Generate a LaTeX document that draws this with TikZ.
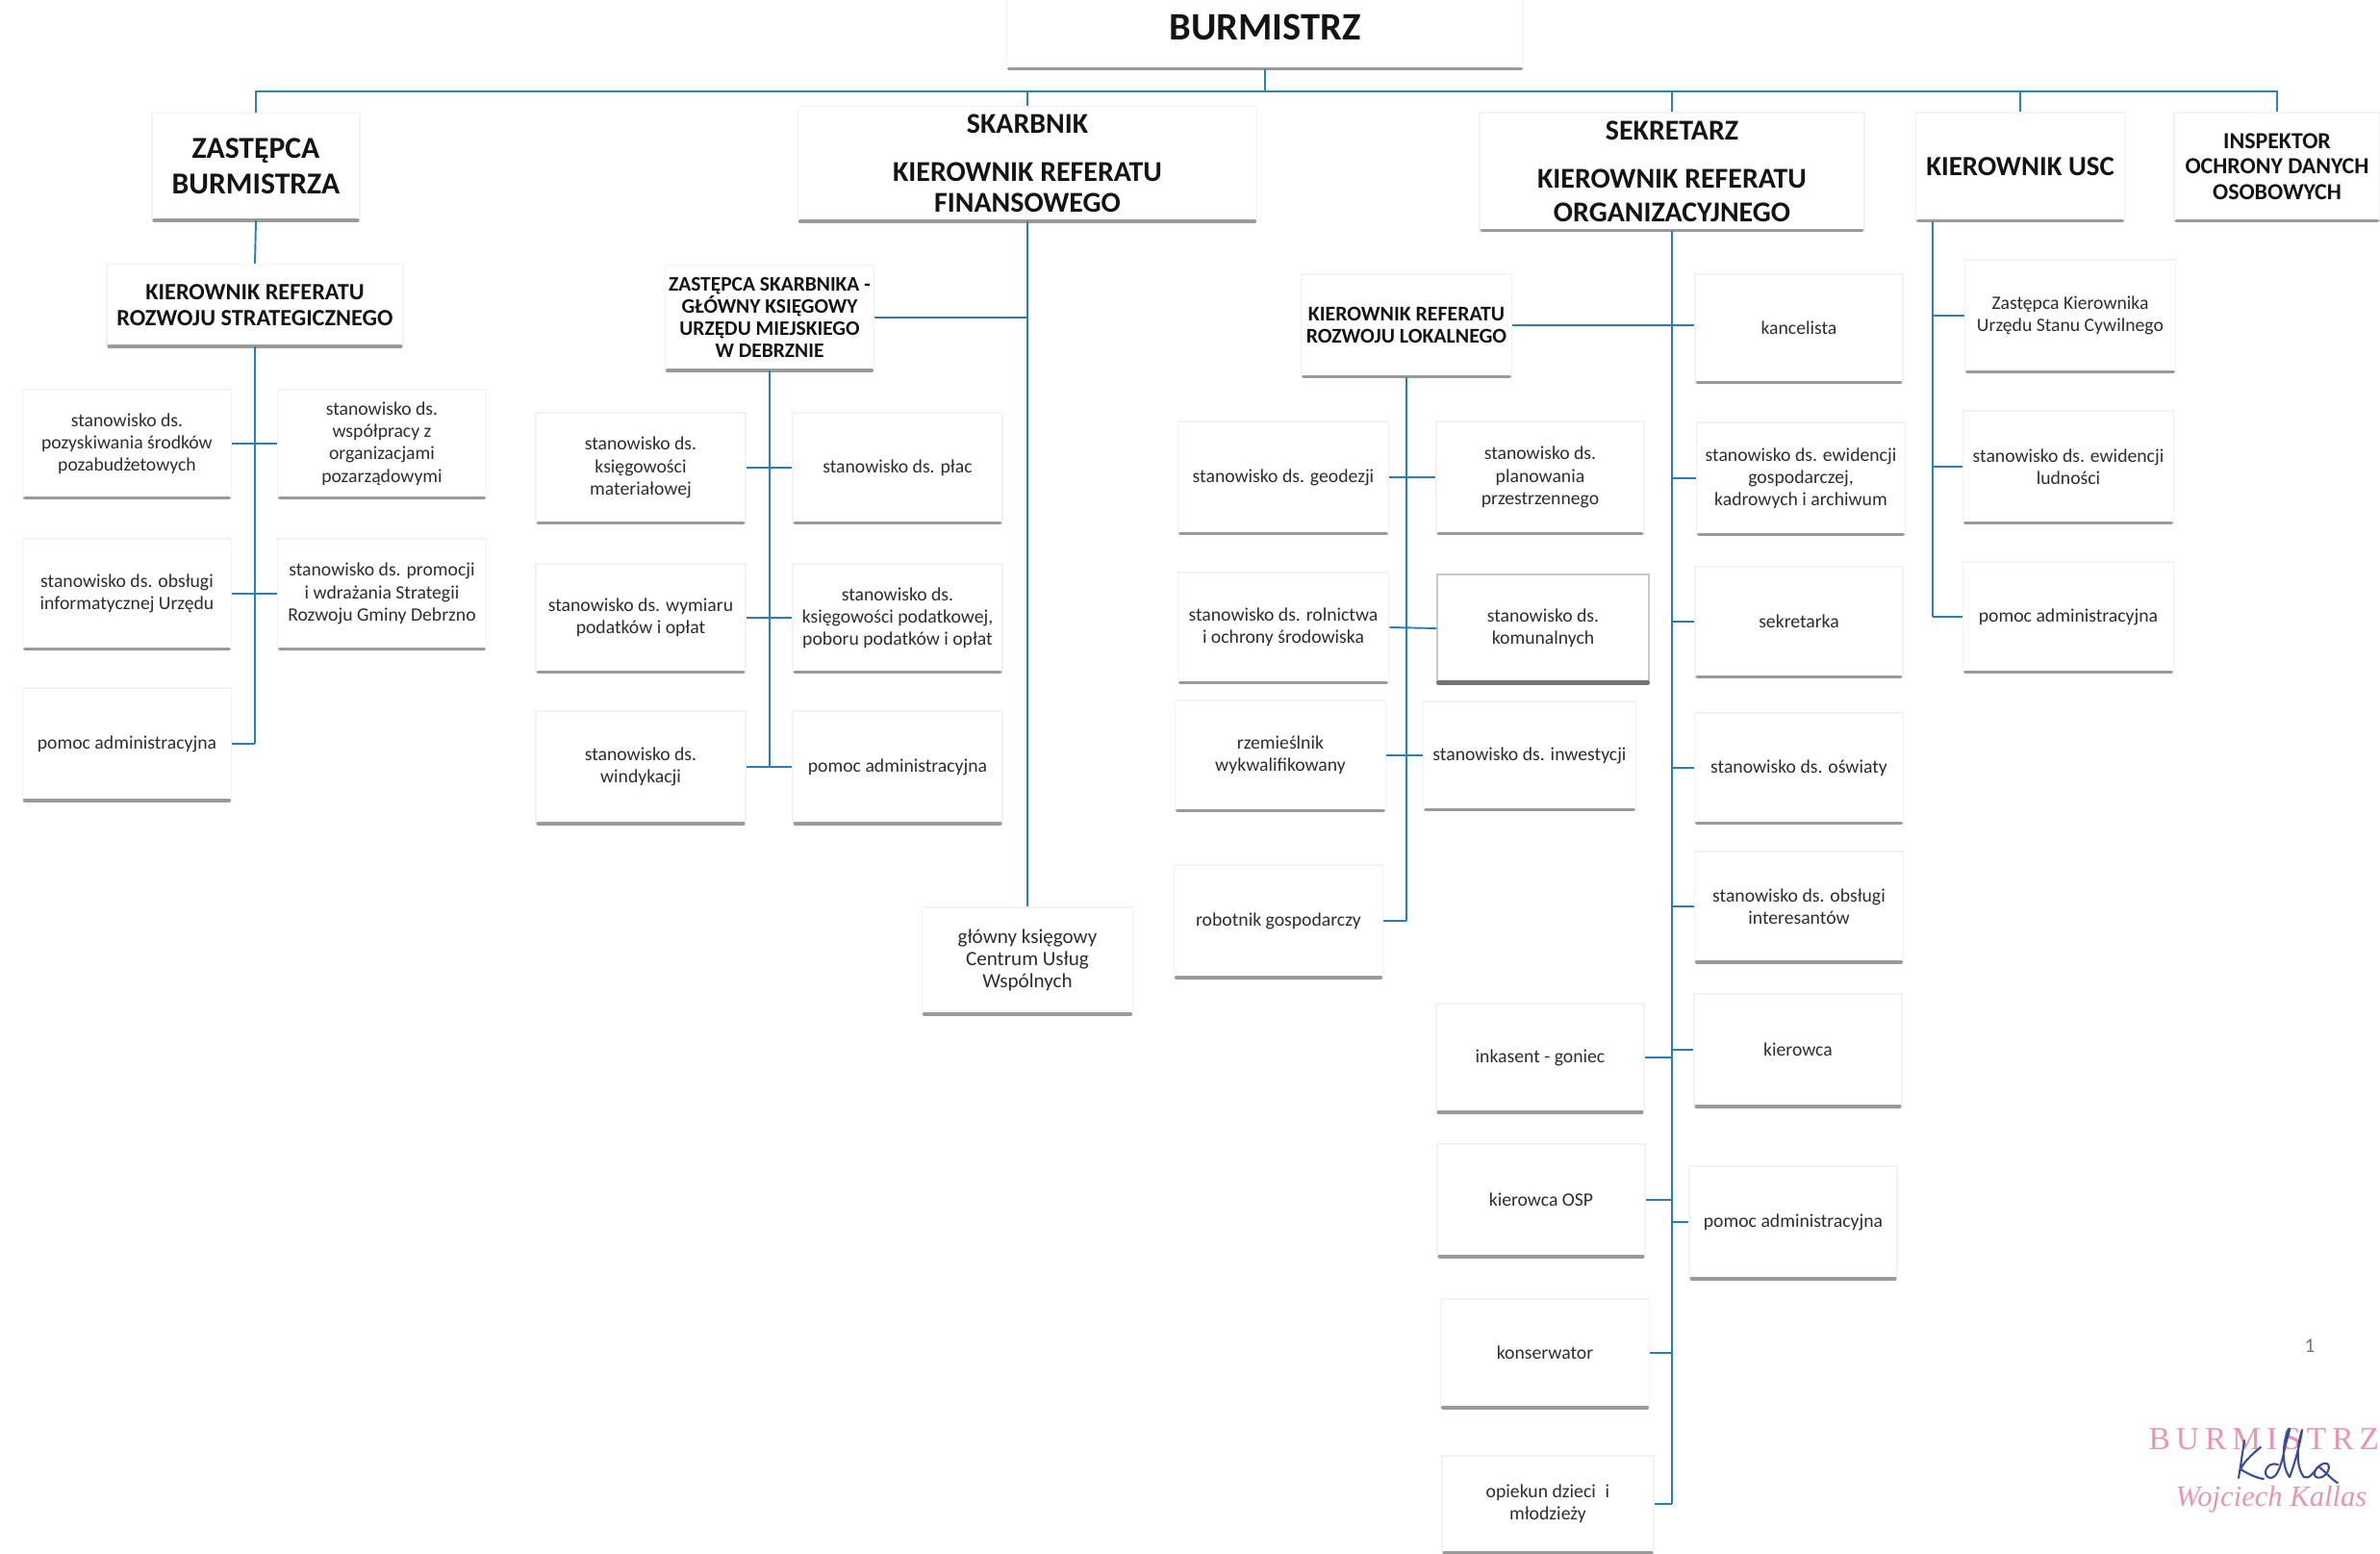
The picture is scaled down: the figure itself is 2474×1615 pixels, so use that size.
\documentclass[tikz,border=0pt]{standalone}
\usepackage{fontspec}
\setmainfont{Carlito}
\newfontfamily\stampfont[LetterSpace=18]{Liberation Serif}
\newfontfamily\stampit{Liberation Serif}
\definecolor{conn}{HTML}{2A7DB8}
\definecolor{bus}{HTML}{2A86A8}
\definecolor{shade}{HTML}{9A9A9A}
\definecolor{stamp}{HTML}{E896AC}
\definecolor{ink}{HTML}{3A4C9A}
\begin{document}
\begin{tikzpicture}[x=0.01cm,y=-0.01cm,
  box/.style={draw=black!5, fill=white, align=center, inner sep=1pt,
    font=\fontsize{5.6}{6.6}\selectfont, text=black!82},
  head/.style={box, font=\bfseries\fontsize{9}{10.5}\selectfont, text=black!92},
  ln/.style={draw=conn, line width=0.55pt},
  busln/.style={draw=bus, line width=0.8pt},
  shadowln/.style={draw=shade, line width=1pt, line cap=round},
]
\useasboundingbox (0,0) rectangle (2474,1615);

% ---------- top level ----------
\node[head, minimum width=5.37cm, minimum height=0.86cm,
  font=\bfseries\fontsize{11.5}{13}\selectfont] (burm) at (1315,28) {BURMISTRZ};
\node[head, minimum width=2.16cm, minimum height=1.11cm] (zast) at (266,173) {ZASTĘPCA\\BURMISTRZA};
\node[head, minimum width=4.77cm, minimum height=1.19cm,
  font=\bfseries\fontsize{8.5}{9.2}\selectfont] (skarb) at (1068,170)
  {SKARBNIK\\[5pt]KIEROWNIK REFERATU\\FINANSOWEGO};
\node[head, minimum width=4.00cm, minimum height=1.22cm,
  font=\bfseries\fontsize{8.5}{10}\selectfont] (sekr) at (1738,178)
  {SEKRETARZ\\[4.2pt]KIEROWNIK REFERATU\\ORGANIZACYJNEGO};
\node[head, minimum width=2.17cm, minimum height=1.12cm,
  font=\bfseries\fontsize{8.2}{9.5}\selectfont] (usc) at (2100,173) {KIEROWNIK USC};
\node[head, minimum width=2.14cm, minimum height=1.12cm,
  font=\bfseries\fontsize{6.8}{7.6}\selectfont] (iodo) at (2367,173)
  {INSPEKTOR\\OCHRONY DANYCH\\OSOBOWYCH};

% ---------- second level ----------
\node[head, minimum width=3.08cm, minimum height=0.85cm,
  font=\bfseries\fontsize{6.9}{7.7}\selectfont] (krs) at (265,317)
  {KIEROWNIK REFERATU\\ROZWOJU STRATEGICZNEGO};
\node[head, minimum width=2.17cm, minimum height=1.09cm,
  font=\bfseries\fontsize{6.1}{6.6}\selectfont] (zsk) at (800,330)
  {ZASTĘPCA SKARBNIKA -\\GŁÓWNY KSIĘGOWY\\URZĘDU MIEJSKIEGO\\W DEBRZNIE};
\node[head, minimum width=2.19cm, minimum height=1.06cm,
  font=\bfseries\fontsize{6.2}{6.6}\selectfont] (krl) at (1462,338)
  {KIEROWNIK REFERATU\\ROZWOJU LOKALNEGO};
\node[box, minimum width=2.19cm, minimum height=1.10cm,
  font=\fontsize{6}{6.6}\selectfont] (gk) at (1068,998)
  {główny księgowy\\Centrum Usług\\Wspólnych};

% ---------- strategic development group ----------
\node[box, minimum width=2.17cm, minimum height=1.12cm] (l1) at (132,461) {stanowisko ds.\\pozyskiwania środków\\pozabudżetowych};
\node[box, minimum width=2.17cm, minimum height=1.12cm] (r1) at (397,461) {stanowisko ds.\\współpracy z\\organizacjami\\pozarządowymi};
\node[box, minimum width=2.17cm, minimum height=1.14cm] (l2) at (132,617) {stanowisko ds. obsługi\\informatycznej Urzędu};
\node[box, minimum width=2.17cm, minimum height=1.14cm] (r2) at (397,617) {stanowisko ds. promocji\\i wdrażania Strategii\\Rozwoju Gminy Debrzno};
\node[box, minimum width=2.17cm, minimum height=1.16cm] (l3) at (132,773) {pomoc administracyjna};

% ---------- finance group ----------
\node[box, minimum width=2.18cm, minimum height=1.14cm] (s1) at (666,486) {stanowisko ds.\\księgowości\\materiałowej};
\node[box, minimum width=2.18cm, minimum height=1.14cm] (s2) at (933,486) {stanowisko ds. płac};
\node[box, minimum width=2.18cm, minimum height=1.12cm] (s3) at (666,642) {stanowisko ds. wymiaru\\podatków i opłat};
\node[box, minimum width=2.18cm, minimum height=1.12cm] (s4) at (933,642) {stanowisko ds.\\księgowości podatkowej,\\poboru podatków i opłat};
\node[box, minimum width=2.18cm, minimum height=1.16cm] (s5) at (666,797) {stanowisko ds.\\windykacji};
\node[box, minimum width=2.18cm, minimum height=1.16cm] (s6) at (933,797) {pomoc administracyjna};

% ---------- local development group ----------
\node[box, minimum width=2.19cm, minimum height=1.16cm] (g1) at (1334,496) {stanowisko ds. geodezji};
\node[box, minimum width=2.16cm, minimum height=1.16cm] (g2) at (1601,496) {stanowisko ds.\\planowania\\przestrzennego};
\node[box, minimum width=2.19cm, minimum height=1.14cm] (g3) at (1334,652) {stanowisko ds. rolnictwa\\i ochrony środowiska};
\node[box, draw=black!22, minimum width=2.20cm, minimum height=1.12cm] (g4) at (1604,653) {stanowisko ds.\\komunalnych};
\node[box, minimum width=2.19cm, minimum height=1.14cm] (g5) at (1331,785) {rzemieślnik\\wykwalifikowany};
\node[box, minimum width=2.21cm, minimum height=1.12cm] (g6) at (1590,785) {stanowisko ds. inwestycji};
\node[box, minimum width=2.17cm, minimum height=1.16cm] (g7) at (1329,957) {robotnik gospodarczy};

% ---------- secretary group, right column ----------
\node[box, minimum width=2.16cm, minimum height=1.12cm] (k1) at (1870,341) {kancelista};
\node[box, minimum width=2.17cm, minimum height=1.16cm] (k2) at (1872,497) {stanowisko ds. ewidencji\\gospodarczej,\\kadrowych i archiwum};
\node[box, minimum width=2.16cm, minimum height=1.14cm] (k3) at (1870,646) {sekretarka};
\node[box, minimum width=2.17cm, minimum height=1.14cm] (k4) at (1870,798) {stanowisko ds. oświaty};
\node[box, minimum width=2.17cm, minimum height=1.14cm] (k5) at (1870,942) {stanowisko ds. obsługi\\interesantów};
\node[box, minimum width=2.16cm, minimum height=1.16cm] (k6) at (1869,1091) {kierowca};
\node[box, minimum width=2.16cm, minimum height=1.16cm] (k7) at (1864,1270) {pomoc administracyjna};

% ---------- secretary group, left column ----------
\node[box, minimum width=2.16cm, minimum height=1.12cm] (j1) at (1601,1099) {inkasent - goniec};
\node[box, minimum width=2.16cm, minimum height=1.16cm] (j2) at (1602,1247) {kierowca OSP};
\node[box, minimum width=2.17cm, minimum height=1.12cm] (j3) at (1606,1406) {konserwator};
\node[box, minimum width=2.20cm, minimum height=1.00cm] (j4) at (1609,1563) {opiekun dzieci\enspace i\\młodzieży};

% ---------- registry office group ----------
\node[box, minimum width=2.19cm, minimum height=1.16cm] (u1) at (2152,328) {Zastępca Kierownika\\Urzędu Stanu Cywilnego};
\node[box, minimum width=2.19cm, minimum height=1.16cm] (u2) at (2150,485) {stanowisko ds. ewidencji\\ludności};
\node[box, minimum width=2.19cm, minimum height=1.14cm] (u3) at (2150,641) {pomoc administracyjna};

% ---------- box shadows ----------
\foreach \n in {burm,zast,skarb,sekr,usc,iodo,krs,zsk,krl,gk,l1,r1,l2,r2,l3,
  s1,s2,s3,s4,s5,s6,g1,g2,g3,g5,g6,g7,k1,k2,k3,k4,k5,k6,k7,j1,j2,j3,j4,u1,u2,u3}
  \draw[shadowln] ([xshift=0.03cm]\n.south west) -- ([xshift=-0.03cm]\n.south east);
\draw[shadowln, draw=black!55, line width=1.3pt] ([xshift=0.02cm]g4.south west) -- ([xshift=-0.02cm]g4.south east);

% ---------- main bus ----------
\coordinate (bus) at (burm.south |- 0,95);
\draw[busln] (burm.south) -- (bus);
\draw[busln] (zast.north) |- (bus) -| (iodo.north);
\draw[busln] (skarb.north) -- (skarb.north |- bus);
\draw[busln] (sekr.north) -- (sekr.north |- bus);
\draw[busln] (usc.north) -- (usc.north |- bus);

% ---------- deputy mayor branch ----------
\draw[ln] (zast.south) -- (krs.north);
\coordinate (krsEnd) at (krs.south |- l3.east);
\draw[ln] (krs.south) -- (krsEnd);
\draw[ln] (l1.east) -- (r1.west);
\draw[ln] (l2.east) -- (r2.west);
\draw[ln] (l3.east) -- (krsEnd);

% ---------- treasurer branch ----------
\draw[ln] (skarb.south) -- (gk.north);
\draw[ln] (zsk.east) -- (zsk.east -| skarb.south);
\coordinate (zskEnd) at (zsk.south |- s5.east);
\draw[ln] (zsk.south) -- (zskEnd);
\draw[ln] (s1.east) -- (s2.west);
\draw[ln] (s3.east) -- (s4.west);
\draw[ln] (s5.east) -- (s6.west);

% ---------- secretary branch ----------
\coordinate (sekEnd) at (sekr.south |- j4.east);
\draw[ln] (sekr.south) -- (sekEnd);
\draw[ln] (krl.east) -- (krl.east -| k1.west);
\foreach \n in {k2,k3,k4,k5,k6,k7}
  \draw[ln] (\n.west -| sekr.south) -- (\n.west);
\foreach \n in {j1,j2,j3,j4}
  \draw[ln] (\n.east) -- (\n.east -| sekr.south);

% ---------- local development branch ----------
\coordinate (krlEnd) at (krl.south |- g7.east);
\draw[ln] (krl.south) -- (krlEnd);
\draw[ln] (g1.east) -- (g2.west);
\draw[ln] (g3.east) -- (g4.west);
\draw[ln] (g5.east) -- (g6.west);
\draw[ln] (g7.east) -- (krlEnd);

% ---------- registry office branch ----------
\coordinate (uscTop) at ([xshift=0.18cm]usc.south west);
\coordinate (uscEnd) at (uscTop |- u3.west);
\draw[ln] (uscTop) -- (uscEnd);
\foreach \n in {u1,u2,u3}
  \draw[ln] (\n.west -| uscTop) -- (\n.west);

% ---------- page number and stamp ----------
\node[text=black!55, font=\fontsize{6}{7}\selectfont] (pg) at (2401,1399) {1};
\node[text=stamp, font=\stampfont\fontsize{9.5}{11}\selectfont, anchor=west, inner sep=0pt] (st1) at (2233,1496) {BURMISTRZ};
\node[text=stamp, font=\stampit\itshape\fontsize{8.7}{10}\selectfont] (st2) at (2361,1558) {Wojciech Kallas};
\draw[ink, line width=0.6pt, line cap=round, line join=round]
  (2333,1497) .. controls (2331,1510) and (2329,1524) .. (2327,1536)
  (2350,1504) .. controls (2340,1512) and (2332,1520) .. (2329,1527)
  .. controls (2336,1531) and (2345,1536) .. (2353,1537)
  (2368,1522) .. controls (2356,1518) and (2350,1534) .. (2360,1536)
  .. controls (2368,1536) and (2372,1520) .. (2375,1505)
  .. controls (2378,1492) and (2382,1482) .. (2379,1485)
  .. controls (2372,1500) and (2372,1525) .. (2380,1535)
  .. controls (2386,1520) and (2392,1495) .. (2393,1486)
  .. controls (2388,1500) and (2386,1525) .. (2395,1535)
  .. controls (2400,1538) and (2405,1530) .. (2410,1524)
  .. controls (2420,1516) and (2424,1524) .. (2418,1532)
  .. controls (2410,1540) and (2400,1534) .. (2410,1524)
  .. controls (2418,1530) and (2424,1538) .. (2430,1541);
\end{tikzpicture}
\end{document}
